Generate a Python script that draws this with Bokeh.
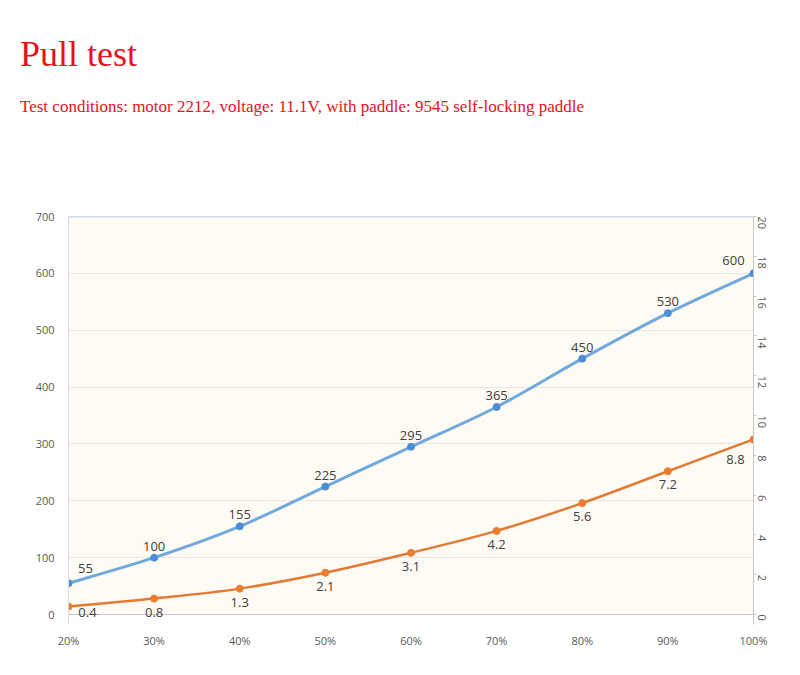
import math
from bokeh.plotting import figure
from bokeh.layouts import column
from bokeh.models import Range1d, LinearAxis, FixedTicker, ColumnDataSource, BoxAnnotation, Div
from bokeh.core.properties import value
from bokeh.embed import file_html
from bokeh.resources import INLINE

# ---- data ----
categories = ["20%", "30%", "40%", "50%", "60%", "70%", "80%", "90%", "100%"]
pull_values = [55, 100, 155, 225, 295, 365, 450, 530, 600]
current_values = [0.4, 0.8, 1.3, 2.1, 3.1, 4.2, 5.6, 7.2, 8.8]
left_ticks = [0, 100, 200, 300, 400, 500, 600, 700]
right_ticks = [0, 2, 4, 6, 8, 10, 12, 14, 16, 18, 20]
title_text = "Pull test"
subtitle_text = "Test conditions: motor 2212, voltage: 11.1V, with paddle: 9545 self-locking paddle"

BLUE_LINE = "#72A9DD"
BLUE_DOT = "#4A8FD6"
ORANGE_LINE = "#E27A34"
ORANGE_DOT = "#EC7D2F"
LABEL_COLOR = "#404040"
TICK_COLOR = "#595959"
RED = "#E5121C"
FONT = "Open Sans"
SERIF = "Liberation Serif"

# ---- header (titles) ----
HEAD_H = 200
head_html = (
    f'<div style="position:relative;width:800px;height:{HEAD_H}px;'
    f"font-family:'{SERIF}',serif;color:{RED};\">"
    f'<div style="position:absolute;left:20px;top:36px;font-size:36px;line-height:36px;'
    f'white-space:nowrap;">{title_text}</div>'
    f'<div style="position:absolute;left:20px;top:98px;font-size:17px;line-height:17px;'
    f'white-space:nowrap;">{subtitle_text}</div>'
    f'</div>'
)
head = Div(text=head_html, width=800, height=HEAD_H, margin=0)

# ---- main chart ----
xs = list(range(len(categories)))
LEFT_MAX = left_ticks[-1]
RIGHT_MAX = right_ticks[-1]
PLOT_PX = 398          # pixel height from 0 to max
PAD_PX = 10            # extra room under the zero line for data labels
left_start = -PAD_PX / PLOT_PX * LEFT_MAX
right_start = -PAD_PX / PLOT_PX * RIGHT_MAX

p = figure(width=800, height=675 - HEAD_H, output_backend="svg", toolbar_location=None,
           x_range=Range1d(0, len(categories) - 1), y_range=Range1d(left_start, LEFT_MAX),
           min_border_left=68, min_border_right=47, min_border_top=16, min_border_bottom=51,
           margin=0)
p.extra_y_ranges = {"right": Range1d(right_start, RIGHT_MAX)}
p.background_fill_color = "#FEFAF4"
p.border_fill_color = "#FFFFFF"
p.outline_line_color = None
p.xgrid.visible = False
p.ygrid.ticker = FixedTicker(ticks=left_ticks)
p.ygrid.grid_line_color = "#E8E4DE"
p.ygrid.grid_line_width = 1

# white strip below the zero line
p.add_layout(BoxAnnotation(top=0, fill_color="#FFFFFF", fill_alpha=1.0, line_color=None,
                           level="underlay"))

# left axis
ya = p.yaxis[0]
ya.ticker = FixedTicker(ticks=left_ticks)
ya.axis_line_color = "#D6DCE4"
ya.major_tick_line_color = None
ya.minor_tick_line_color = None
ya.major_label_text_font = FONT
ya.major_label_text_font_size = "11px"
ya.major_label_text_color = TICK_COLOR
ya.major_label_standoff = 8

# bottom axis (line drawn at zero separately)
xa = p.xaxis[0]
xa.ticker = FixedTicker(ticks=xs)
xa.major_label_overrides = {i: c for i, c in enumerate(categories)}
xa.axis_line_color = None
xa.major_tick_line_color = None
xa.minor_tick_line_color = None
xa.major_label_text_font = FONT
xa.major_label_text_font_size = "11px"
xa.major_label_text_color = TICK_COLOR
xa.major_label_standoff = 2

# right axis
ra = LinearAxis(y_range_name="right", ticker=FixedTicker(ticks=right_ticks))
ra.axis_line_color = "#C8C8C8"
ra.major_tick_line_color = "#C8C8C8"
ra.major_tick_out = 3
ra.major_tick_in = 0
ra.minor_tick_line_color = None
ra.major_label_orientation = -math.pi / 2
ra.major_label_text_font = FONT
ra.major_label_text_font_size = "11px"
ra.major_label_text_color = TICK_COLOR
ra.major_label_standoff = 5
p.add_layout(ra, "right")

# zero line (x axis) and top blue border line
p.line(x=[xs[0], xs[-1]], y=[0, 0], line_color="#C8C8C8", line_width=1.2)
p.line(x=[xs[0], xs[-1]], y=[LEFT_MAX, LEFT_MAX], line_color="#9DC3E6", line_width=1.5)


def smooth_segments(x, y, t=1 / 6):
    """Catmull-Rom style bezier control points derived from the data."""
    n = len(x)
    seg = dict(x0=[], y0=[], x1=[], y1=[], cx0=[], cy0=[], cx1=[], cy1=[])
    for i in range(n - 1):
        xp, yp = (x[i - 1], y[i - 1]) if i > 0 else (x[i], y[i])
        xn, yn = (x[i + 2], y[i + 2]) if i + 2 < n else (x[i + 1], y[i + 1])
        seg["x0"].append(x[i]); seg["y0"].append(y[i])
        seg["x1"].append(x[i + 1]); seg["y1"].append(y[i + 1])
        seg["cx0"].append(x[i] + (x[i + 1] - xp) * t)
        seg["cy0"].append(y[i] + (y[i + 1] - yp) * t)
        seg["cx1"].append(x[i + 1] - (xn - x[i]) * t)
        seg["cy1"].append(y[i + 1] - (yn - y[i]) * t)
    return ColumnDataSource(seg)


# blue series (left axis)
p.bezier(x0="x0", y0="y0", x1="x1", y1="y1", cx0="cx0", cy0="cy0", cx1="cx1", cy1="cy1",
         source=smooth_segments(xs, pull_values), line_color=BLUE_LINE, line_width=3)
p.scatter(xs, pull_values, size=7, fill_color=BLUE_DOT, line_color=BLUE_DOT)

# orange series (right axis)
p.bezier(x0="x0", y0="y0", x1="x1", y1="y1", cx0="cx0", cy0="cy0", cx1="cx1", cy1="cy1",
         source=smooth_segments(xs, current_values), line_color=ORANGE_LINE, line_width=2.5,
         y_range_name="right")
p.scatter(xs, current_values, size=7, fill_color=ORANGE_DOT, line_color=ORANGE_DOT,
          y_range_name="right")

# data labels (text glyph: y_offset positive = down)
n = len(xs)
bx_off = [17 if i == 0 else (-20 if i == n - 1 else 0) for i in range(n)]
by_off = [-10 if i == 0 else (-8 if i == n - 1 else -7) for i in range(n)]
p.text(x=xs, y=pull_values, text=[str(v) for v in pull_values],
       x_offset=bx_off, y_offset=by_off, text_align="center", text_baseline="bottom",
       text_font=value(FONT), text_font_size="13px", text_color=LABEL_COLOR)

ox_off = [19 if i == 0 else (-18 if i == n - 1 else 0) for i in range(n)]
oy_off = [1 if i == 0 else (16 if i == n - 1 else 9) for i in range(n)]
p.text(x=xs, y=current_values, text=[str(v) for v in current_values],
       x_offset=ox_off, y_offset=oy_off, text_align="center", text_baseline="top",
       text_font=value(FONT), text_font_size="13px", text_color=LABEL_COLOR,
       y_range_name="right")

layout = column(head, p, spacing=0)
open("out.html", "w").write(file_html(layout, INLINE))
